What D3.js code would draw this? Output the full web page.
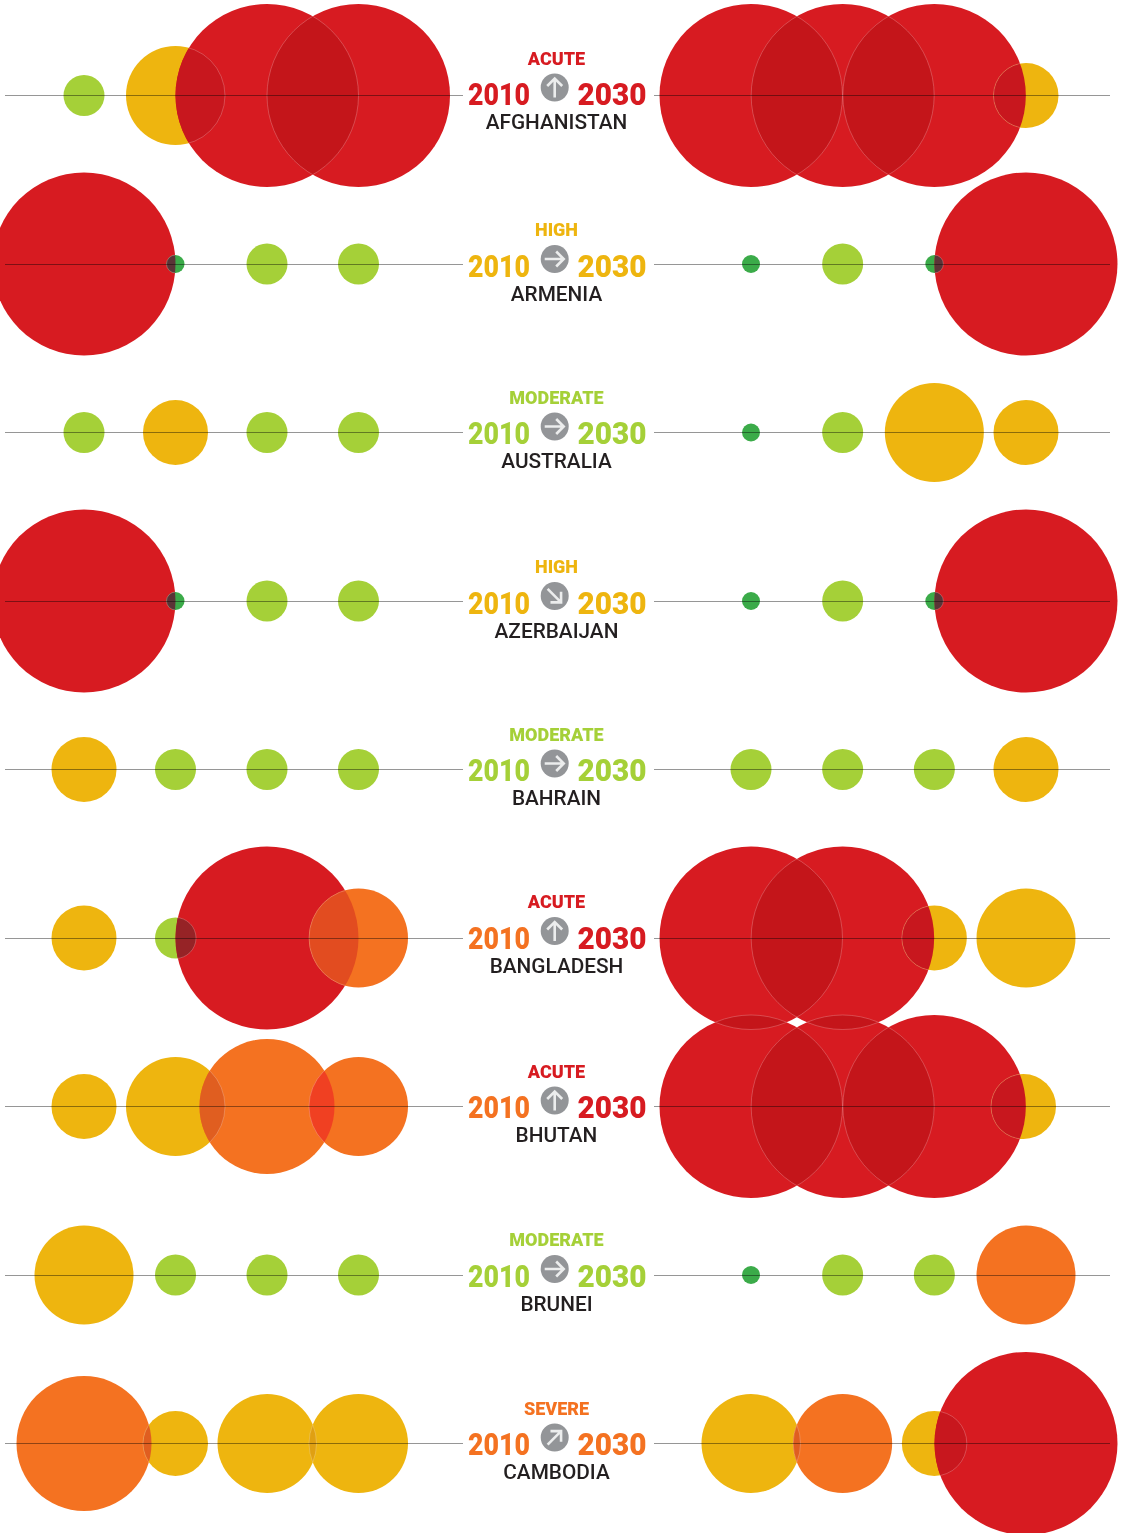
<!DOCTYPE html>
<html>
<head>
<meta charset="utf-8">
<script src="https://cdn.jsdelivr.net/npm/d3@7"></script>
<style>
    html, body { margin: 0; padding: 0; background: #fff; }
    svg { display: block; overflow: hidden; }
    text { font-family: Roboto, sans-serif; text-anchor: middle; }
</style>
</head>
<body>
<script>
// Countries and their overall rating
var countries = ["AFGHANISTAN", "ARMENIA", "AUSTRALIA", "AZERBAIJAN", "BAHRAIN", "BANGLADESH", "BHUTAN", "BRUNEI", "CAMBODIA"];
var ratings = ["ACUTE", "HIGH", "MODERATE", "HIGH", "MODERATE", "ACUTE", "ACUTE", "MODERATE", "SEVERE"];
var ratings2010 = ["ACUTE", "HIGH", "MODERATE", "HIGH", "MODERATE", "SEVERE", "SEVERE", "MODERATE", "SEVERE"];
var ratings2030 = ["ACUTE", "HIGH", "MODERATE", "HIGH", "MODERATE", "ACUTE", "ACUTE", "MODERATE", "SEVERE"];
var trends = ["up", "right", "right", "down", "right", "up", "up", "right", "rising"];
var years = ["2010", "2030"];

// Level of each of the four circles per country (0 = smallest, 6 = largest)
var levels = [0, 1, 2, 3, 4, 5, 6];
var values2010 = [
    [1, 3, 6, 6],
    [6, 0, 1, 1],
    [1, 2, 1, 1],
    [6, 0, 1, 1],
    [2, 1, 1, 1],
    [2, 1, 6, 4],
    [2, 3, 5, 4],
    [3, 1, 1, 1],
    [5, 2, 3, 3]
];
var values2030 = [
    [6, 6, 6, 2],
    [0, 1, 0, 6],
    [0, 1, 3, 2],
    [0, 1, 0, 6],
    [1, 1, 1, 2],
    [6, 6, 2, 3],
    [6, 6, 6, 2],
    [0, 1, 1, 4],
    [3, 4, 2, 6]
];

var width = 1121;
var height = 1533;

var colors = { dark: "#3bab49", green: "#a5d038", yellow: "#eeb50f", orange: "#f47221", red: "#d71b21" };
var levelColors = ["dark", "green", "yellow", "yellow", "orange", "orange", "red"];
var ratingColors = { MODERATE: "#a5d038", HIGH: "#eeb50f", SEVERE: "#f47221", ACUTE: "#d71b21" };

// What two overlapping colours look like
var overlapColors = {
    "dark|red": "#5b3437",
    "green|red": "#962326",
    "orange|red": "#e24c20",
    "red|yellow": "#c8171e",
    "red|red": "#c4151a",
    "orange|yellow": "#e05e20",
    "orange|orange": "#f04022",
    "yellow|yellow": "#e0a012"
};

var trendAngles = { up: 0, right: 90, down: 135, rising: 45 };

// The centre text does not sit at quite the same height in every row
var labelShift = [0, 3, 2, 3, 2, 1, 2, 2, 2];

var y = d3.scalePoint().domain(countries).range([95.5, 1443.5]);
var xLeft = d3.scalePoint().domain(d3.range(4)).range([84, 358.5]);
var xRight = d3.scalePoint().domain(d3.range(4)).range([751, 1026]);
var radius = d3.scaleOrdinal().domain(levels).range([9, 20.5, 32.5, 49.5, 49.5, 67.5, 91.5]);
var colorName = d3.scaleOrdinal().domain(levels).range(levelColors);

var svg = d3.select("body")
    .append("svg")
    .attr("width", width)
    .attr("height", height)
    .style("isolation", "isolate");

svg.append("rect").attr("width", width).attr("height", height).attr("fill", "#fff");

// Flatten to one list of circles
var circles = [];
countries.forEach(function (c, i) {
    values2010[i].forEach(function (v, j) {
        circles.push({ id: circles.length, cx: xLeft(j), cy: y(c), r: radius(v), color: colorName(v) });
    });
    values2030[i].forEach(function (v, j) {
        // the last Bhutan circle sits a little left of its column
        var nudge = c === "BHUTAN" && j === 3 ? -2.5 : 0;
        circles.push({ id: circles.length, cx: xRight(j) + nudge, cy: y(c), r: radius(v), color: colorName(v) });
    });
});

// Every pair that touches, also across rows
var pairs = [];
circles.forEach(function (a, i) {
    circles.slice(i + 1).forEach(function (b) {
        if (Math.hypot(a.cx - b.cx, a.cy - b.cy) < a.r + b.r) pairs.push([a, b]);
    });
});

svg.append("defs").selectAll("clipPath")
    .data(circles)
    .enter().append("clipPath")
    .attr("id", function (d) { return "clip" + d.id; })
    .append("circle")
    .attr("cx", function (d) { return d.cx; })
    .attr("cy", function (d) { return d.cy; })
    .attr("r", function (d) { return d.r; });

// Base circles
svg.append("g").selectAll("circle")
    .data(circles)
    .enter().append("circle")
    .attr("cx", function (d) { return d.cx; })
    .attr("cy", function (d) { return d.cy; })
    .attr("r", function (d) { return d.r; })
    .attr("fill", function (d) { return colors[d.color]; });

// Overlap lenses
svg.append("g").selectAll("circle")
    .data(pairs)
    .enter().append("circle")
    .attr("cx", function (d) { return d[1].cx; })
    .attr("cy", function (d) { return d[1].cy; })
    .attr("r", function (d) { return d[1].r; })
    .attr("clip-path", function (d) { return "url(#clip" + d[0].id + ")"; })
    .attr("fill", function (d) { return overlapColors[[d[0].color, d[1].color].sort().join("|")]; });

// Thin light arc where a circle runs inside another one
var arcs = [];
pairs.forEach(function (p) {
    if (p[0].r <= p[1].r) arcs.push({ c: p[0], clip: p[1] });
    if (p[1].r <= p[0].r) arcs.push({ c: p[1], clip: p[0] });
});

svg.append("g").selectAll("circle")
    .data(arcs)
    .enter().append("circle")
    .attr("cx", function (d) { return d.c.cx; })
    .attr("cy", function (d) { return d.c.cy; })
    .attr("r", function (d) { return d.c.r; })
    .attr("clip-path", function (d) { return "url(#clip" + d.clip.id + ")"; })
    .attr("fill", "none")
    .attr("stroke", "#fff")
    .attr("stroke-opacity", 0.32)
    .attr("stroke-width", 0.7);

// Baselines, multiplied so they darken the circles
var lineGroup = svg.append("g").style("mix-blend-mode", "multiply");
[[5, 463], [654, 1110]].forEach(function (ends) {
    lineGroup.append("g").selectAll("line")
        .data(countries)
        .enter().append("line")
        .attr("x1", ends[0])
        .attr("x2", ends[1])
        .attr("y1", function (d) { return Math.floor(y(d)) + 0.5; })
        .attr("y2", function (d) { return Math.floor(y(d)) + 0.5; })
        .attr("stroke", "#969696")
        .attr("stroke-width", 1);
});

// Centre labels
var label = svg.append("g").selectAll("g")
    .data(countries)
    .enter().append("g")
    .attr("transform", function (d, i) { return "translate(0," + (y(d) + labelShift[i]) + ")"; });

label.append("text")
    .attr("x", 556.5)
    .attr("y", -31)
    .attr("font-size", 18)
    .attr("font-weight", 900)
    .attr("fill", function (d, i) { return ratingColors[ratings[i]]; })
    .text(function (d, i) { return ratings[i]; });

label.append("text")
    .attr("x", 499)
    .attr("y", 9.5)
    .attr("font-size", 31)
    .attr("font-weight", 900)
    .attr("textLength", 62)
    .attr("lengthAdjust", "spacingAndGlyphs")
    .attr("fill", function (d, i) { return ratingColors[ratings2010[i]]; })
    .text(years[0]);

label.append("text")
    .attr("x", 612)
    .attr("y", 9.5)
    .attr("font-size", 31)
    .attr("font-weight", 900)
    .attr("textLength", 69)
    .attr("lengthAdjust", "spacingAndGlyphs")
    .attr("fill", function (d, i) { return ratingColors[ratings2030[i]]; })
    .text(years[1]);

label.append("text")
    .attr("x", 556.5)
    .attr("y", 33.5)
    .attr("font-size", 20.8)
    .attr("font-weight", 500)
    .attr("fill", "#231f20")
    .text(function (d) { return d; });

// Trend arrows
var arrow = label.append("g")
    .attr("transform", function (d, i) { return "translate(554.7,-8) rotate(" + trendAngles[trends[i]] + ")"; });

arrow.append("circle").attr("r", 14).attr("fill", "#939598");

arrow.append("path")
    .attr("d", "M0,10V-9M-7.5,-1.5L0,-9L7.5,-1.5")
    .attr("fill", "none")
    .attr("stroke", "#eceded")
    .attr("stroke-width", 2.6);
</script>
</body>
</html>
